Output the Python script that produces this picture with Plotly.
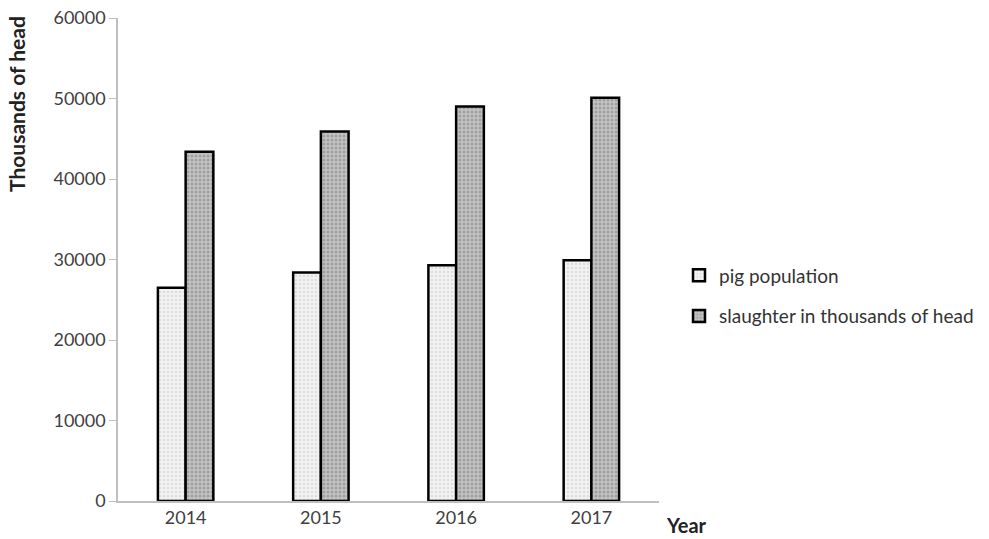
import plotly.graph_objects as go

years = ["2014", "2015", "2016", "2017"]
pig_population = [26500, 28400, 29300, 29900]
slaughter = [43400, 45900, 49000, 50100]
y_ticks = [0, 10000, 20000, 30000, 40000, 50000, 60000]
y_tick_labels = [str(v) for v in y_ticks]

fig = go.Figure()
fig.add_trace(go.Bar(
    x=years, y=pig_population, name="pig population", legendgroup="a",
    marker=dict(color="#ececec", line=dict(color="black", width=2.5),
                pattern=dict(shape=".", fgcolor="#c8c8c8", bgcolor="#f2f2f2", size=4, solidity=0.3)),
))
fig.add_trace(go.Bar(
    x=years, y=slaughter, name="slaughter in thousands of head", legendgroup="b",
    marker=dict(color="#a8a8a8", line=dict(color="black", width=2.5),
                pattern=dict(shape=".", fgcolor="#7a7a7a", bgcolor="#c4c4c4", size=4, solidity=0.45)),
))

pw = 989 - 118 - 330
ph = 539 - 18 - 38

fig.update_layout(
    width=989, height=539,
    margin=dict(l=118, r=330, t=18, b=38, autoexpand=False),
    paper_bgcolor="white", plot_bgcolor="white",
    barmode="group", bargap=0.59, bargroupgap=0,
    font=dict(family="Lato, Carlito, Calibri, sans-serif", size=18, color="#404040"),
    showlegend=True,
    legend=dict(x=(679 - 118) / pw, y=(501 - 296) / ph, xanchor="left", yanchor="middle",
                font=dict(size=19, color="#333333"), tracegroupgap=13,
                itemwidth=30, traceorder="grouped", borderwidth=0),
    xaxis=dict(showline=True, linecolor="#bfbfbf", linewidth=1.5, ticks="", automargin=False,
               tickfont=dict(size=18, color="#404040"), showgrid=False),
    yaxis=dict(range=[0, 60000], tickvals=y_ticks, ticktext=y_tick_labels, showline=True,
               automargin=False,
               linecolor="#bfbfbf", linewidth=1.5, ticks="outside", ticklen=7, tickcolor="#bfbfbf",
               showgrid=False, zeroline=False, tickfont=dict(size=18, color="#404040")),
    annotations=[
        dict(text="<b>Year</b>", x=(686 - 118) / pw, y=(501 - 525) / ph, xref="paper", yref="paper",
             xanchor="center", yanchor="middle",
             showarrow=False, font=dict(size=20, color="#222222")),
        dict(text="<b>Thousands of head</b>", x=(17 - 118) / pw, y=(501 - 104) / ph,
             xref="paper", yref="paper", xanchor="center", yanchor="middle",
             showarrow=False, textangle=-90, font=dict(size=21, color="#222222")),
    ],
)

fig.write_html("out.html")
